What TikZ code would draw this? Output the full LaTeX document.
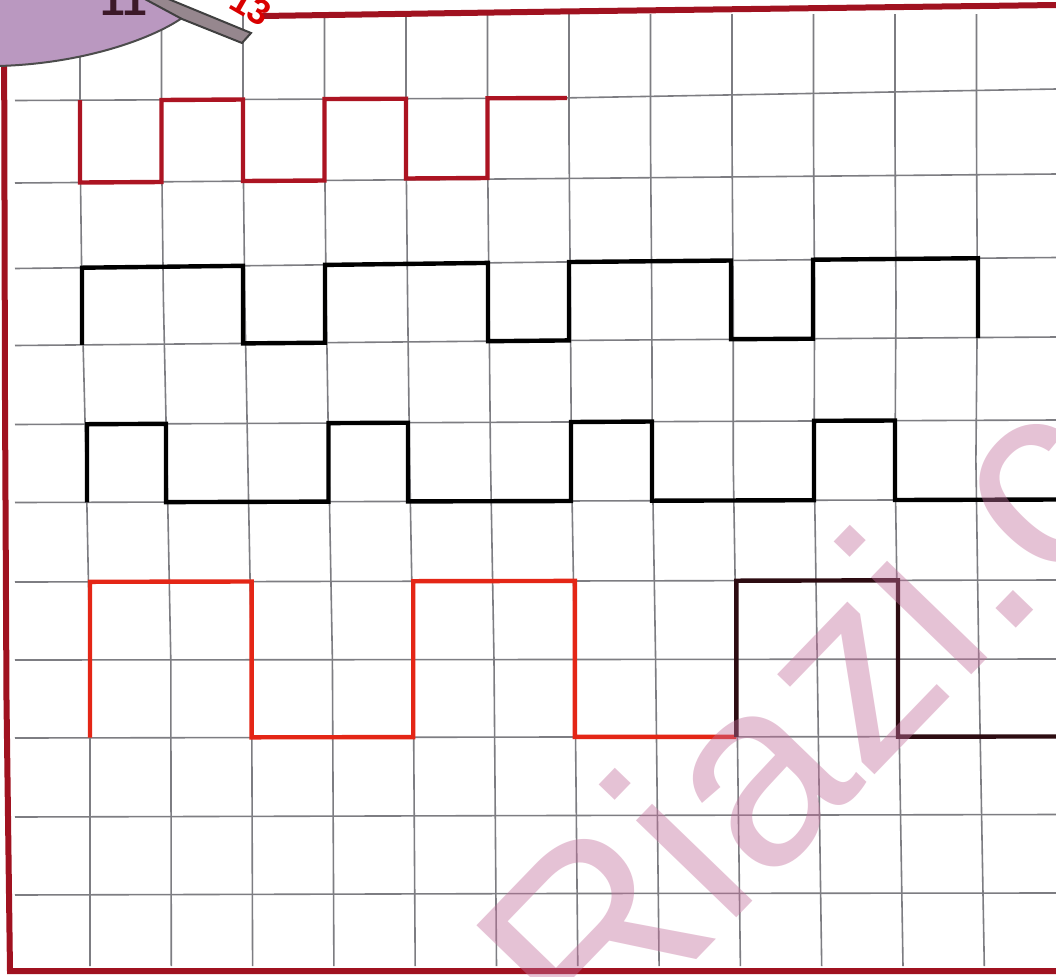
\documentclass[tikz,border=0pt]{standalone}
\usepackage{fontspec}
\newfontfamily\wmfont{Liberation Sans}
\newfontfamily\numfont{Liberation Sans}
\definecolor{gridgray}{RGB}{125,125,130}
\definecolor{framered}{RGB}{160,18,32}
\definecolor{waveone}{RGB}{172,20,34}
\definecolor{wavered}{RGB}{228,38,22}
\definecolor{wavedark}{RGB}{45,12,18}
\definecolor{blobfill}{RGB}{186,152,192}
\definecolor{stripfill}{RGB}{150,135,142}
\definecolor{wmpink}{RGB}{195,110,155}
\definecolor{numdark}{RGB}{60,25,40}
\begin{document}
\begin{tikzpicture}[x=0.5pt,y=-0.5pt,
  gridline/.style={draw=gridgray,line width=0.8pt},
  frame/.style={draw=framered,line width=3pt},
  wave/.style={line width=2.2pt,line join=miter}]
\useasboundingbox (0,0) rectangle (1056,976);
\clip (0,0) rectangle (1056,976);
\fill[white] (0,0) rectangle (1056,976);

% horizontal grid lines
\foreach \a/\b/\c in {100.5/98/89, 183/178.5/174, 268.5/262/257.5, 345.5/340.5/337,
  424.5/422/420, 502.5/501/499.5, 582/581/580, 660/659.5/659, 738/737/736.5,
  817/815.5/814.5, 895/893.5/893}
  \draw[gridline] (15,\a) -- (560,\b) -- (1056,\c);

% vertical grid lines
\foreach \k in {0,...,11}
  \draw[gridline] ({80+81.5*\k},14) -- ({80+81.5*\k},140) -- ({82+81.4*\k},300)
     -- ({86+80.9*\k},460) -- ({90+80.8*\k},660) -- ({90+81.3*\k},966);

% frame
\draw[frame] (262,16) -- (560,11.5) -- (1056,5);
\draw[frame] (4,0) -- (5,400) -- (6.5,700) -- (10,971) -- (1056,971);

% wave 1
\draw[wave,waveone] (80,100) -- (80,182.5) -- (161.5,182) -- (161.5,100) -- (243,99.5)
  -- (243,181) -- (324.5,180.5) -- (324.5,99) -- (406,98.7) -- (406,178.5)
  -- (487.5,178) -- (487.5,98.3) -- (567,98);

% wave 2
\draw[wave,black] (82,344.9) -- (82,267.7) -- (243,265.8) -- (243,343.4) -- (325,342.7)
  -- (325,264.9) -- (488,262.9) -- (488,341.2) -- (569,340.4) -- (569,262)
  -- (731,260.5) -- (731,339.2) -- (813,338.7) -- (813,259.7) -- (978,258.2) -- (978,338);

% wave 3
\draw[wave,black] (87,502.3) -- (87,424.2) -- (166,423.8) -- (166,502.1) -- (328.5,501.6)
  -- (328.5,423.1) -- (408,422.7) -- (408,501.4) -- (571,501) -- (571,422)
  -- (652,421.5) -- (652,500.7) -- (814,500.2) -- (814,420.8) -- (895,420.5)
  -- (895,500) -- (1056,499.5);

% wave 4
\draw[wave,wavered] (90,737.5) -- (90,581.8) -- (251.6,581.5) -- (251.6,737.3)
  -- (413.2,737.1) -- (413.2,581.2) -- (574.8,580.9) -- (574.8,736.9) -- (736.4,736.8);
\draw[wave,wavedark] (736.4,736.8) -- (736.4,580.7) -- (898,580.3) -- (898,736.6) -- (1056,736.5);

% watermark
\node[rotate=46,anchor=base west,inner sep=0pt,text=wmpink,text opacity=0.42,
  font=\wmfont\fontsize{132}{132}\selectfont] (wm) at (592,1068) {Riazi.com};

% corner decoration
\filldraw[fill=blobfill,draw=black!70,line width=1pt]
  (-2,-2) -- (150,-2) -- (182,18) .. controls (150,40) and (80,64) .. (-2,66) -- cycle;
\filldraw[fill=stripfill,draw=black!75,line width=1pt]
  (143,-2) -- (166,-2) -- (251,33) -- (242,43) -- (182,19) -- cycle;
\node[anchor=base,inner sep=0pt,text=numdark,
  font=\numfont\bfseries\fontsize{22}{22}\selectfont] (num) at (124,15) {11};
\node[rotate=-30,inner sep=0pt,text=red!85!black,
  font=\numfont\bfseries\fontsize{18}{18}\selectfont] (pg) at (251,7) {13};
\end{tikzpicture}
\end{document}
